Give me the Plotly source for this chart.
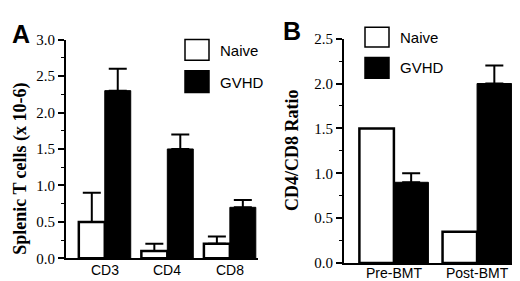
import plotly.graph_objects as go

# Panel A data
cats_a = ["CD3", "CD4", "CD8"]
naive_a = [0.5, 0.1, 0.2]
naive_a_err = [0.4, 0.1, 0.1]
gvhd_a = [2.3, 1.5, 0.7]
gvhd_a_err = [0.3, 0.2, 0.1]

# Panel B data
cats_b = ["Pre-BMT", "Post-BMT"]
naive_b = [1.5, 0.35]
gvhd_b = [0.9, 2.0]
gvhd_b_err = [0.1, 0.2]

W, H = 520, 281
def px(x): return x / W
def py(y): return 1 - y / H

fig = go.Figure()

err_style = dict(type="data", symmetric=False, color="black", thickness=2, width=9)

fig.add_trace(go.Bar(x=cats_a, y=naive_a, name="Naive", xaxis="x", yaxis="y",
                     marker=dict(color="white", line=dict(color="black", width=2.5)),
                     error_y=dict(array=naive_a_err, arrayminus=[0]*3, **err_style),
                     offsetgroup="n", showlegend=False))
fig.add_trace(go.Bar(x=cats_a, y=gvhd_a, name="GVHD", xaxis="x", yaxis="y",
                     marker=dict(color="black", line=dict(color="black", width=1)),
                     error_y=dict(array=gvhd_a_err, arrayminus=[0]*3, **err_style),
                     offsetgroup="g", showlegend=False))
fig.add_trace(go.Bar(x=cats_b, y=naive_b, name="Naive", xaxis="x2", yaxis="y2",
                     marker=dict(color="white", line=dict(color="black", width=2.5)),
                     offsetgroup="n", showlegend=False))
fig.add_trace(go.Bar(x=cats_b, y=gvhd_b, name="GVHD", xaxis="x2", yaxis="y2",
                     marker=dict(color="black", line=dict(color="black", width=1)),
                     error_y=dict(array=gvhd_b_err, arrayminus=[0]*2, **err_style),
                     offsetgroup="g", showlegend=False))

serif = "Liberation Serif"
sans = "Liberation Sans"

def yax():
    return dict(showline=True, linecolor="black", linewidth=2, ticks="outside",
                ticklen=6, tickwidth=1.5, tickcolor="black", showgrid=False, zeroline=False,
                tickformat=".1f", tickfont=dict(family=serif, size=15, color="black"),
                minor=dict(ticks="outside", ticklen=3, tickwidth=1.2, tickcolor="black", dtick=0.25))

xax_common = dict(showline=True, linecolor="black", linewidth=2, ticks="", showgrid=False,
                  zeroline=False, showticklabels=False)

fig.update_layout(
    width=W, height=H, margin=dict(l=0, r=0, t=0, b=0),
    paper_bgcolor="white", plot_bgcolor="white",
    barmode="group", bargap=0.17, bargroupgap=0,
    xaxis=dict(domain=[px(58), px(250)], range=[-0.62, 2.45], anchor="y", **xax_common),
    yaxis=dict(domain=[py(257), py(25)], range=[0, 3.0], dtick=0.5, anchor="x", **yax()),
    xaxis2=dict(domain=[px(336), px(504)], range=[-0.6, 1.42], anchor="y2", **xax_common),
    yaxis2=dict(domain=[py(262), py(24)], range=[0, 2.5], dtick=0.5, anchor="x2", **yax()),
)

shapes = []
annots = []
for (x0, y0, x1, y1, fill, label, ty) in [
    (177, 25, 201, 47, "white", "Naive", 37),
    (177, 58, 201, 81, "black", "GVHD", 70),
    (357, 12, 381, 33, "white", "Naive", 23),
    (357, 44, 381, 66, "black", "GVHD", 55),
]:
    shapes.append(dict(type="rect", xref="paper", yref="paper", x0=px(x0), x1=px(x1),
                       y0=py(y1), y1=py(y0), fillcolor=fill, line=dict(color="black", width=1.5)))
    annots.append(dict(text=label, xref="paper", yref="paper", x=px(x1 + 9), y=py(ty),
                       xanchor="left", yanchor="middle", showarrow=False,
                       font=dict(family=sans, size=15, color="black")))

# category labels
for c in cats_a:
    annots.append(dict(text=c, xref="x", yref="paper", x=c, y=py(269.5), xanchor="center",
                       yanchor="middle", showarrow=False,
                       font=dict(family=sans, size=14, color="black")))
for c in cats_b:
    annots.append(dict(text=c, xref="x2", yref="paper", x=c, y=py(273), xanchor="center",
                       yanchor="middle", showarrow=False,
                       font=dict(family=sans, size=14, color="black")))

# axis titles
annots.append(dict(text="<b>Splenic T cells (x 10-6)</b>", xref="paper", yref="paper",
                   x=px(13), y=py(162), textangle=-90, xanchor="center", yanchor="middle",
                   showarrow=False, font=dict(family=serif, size=18, color="black")))
annots.append(dict(text="<b>CD4/CD8 Ratio</b>", xref="paper", yref="paper",
                   x=px(284), y=py(142), textangle=-90, xanchor="center", yanchor="middle",
                   showarrow=False, font=dict(family=serif, size=18, color="black")))

annots.append(dict(text="<b>A</b>", xref="paper", yref="paper", x=px(2), y=py(19),
                   xanchor="left", yanchor="middle", showarrow=False,
                   font=dict(family=sans, size=25, color="black")))
annots.append(dict(text="<b>B</b>", xref="paper", yref="paper", x=px(273), y=py(16),
                   xanchor="left", yanchor="middle", showarrow=False,
                   font=dict(family=sans, size=25, color="black")))

fig.update_layout(shapes=shapes, annotations=annots)
fig.write_html("out.html")
